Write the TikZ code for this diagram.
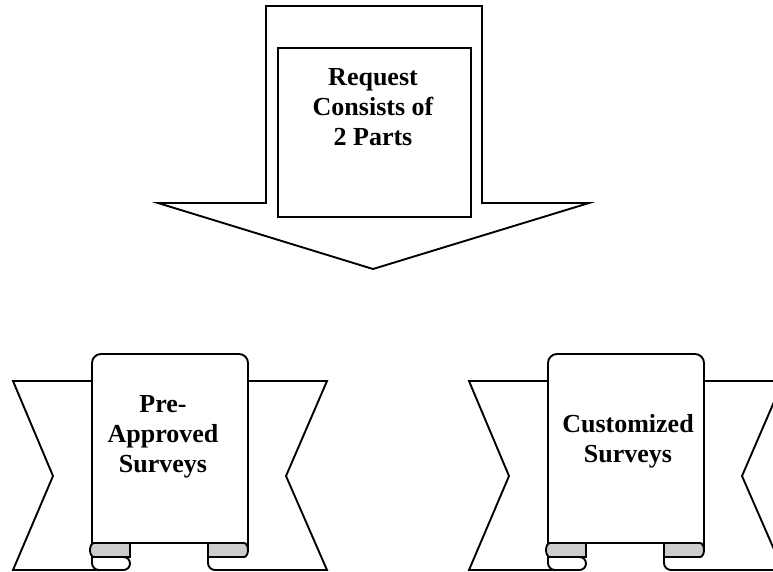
\documentclass[tikz,border=0pt]{standalone}
\usepackage{fontspec}
\setmainfont{Liberation Serif}
\newcommand\ribbonshape[1]{%
  \begin{scope}[shift={(#1,0)}]
    % side bands
    \draw (-78,381) -- (-157,381) -- (-117,476) -- (-157,570) -- (-46.5,570);
    \draw (78,381) -- (157,381) -- (116,476) -- (157,570) -- (45,570);
    % panel
    \draw[rounded corners=9] (-78,563) -- (-78,354) -- (78,354) -- (78,549);
    \draw (-40,543) -- (38,543);
    % grey folds
    \draw[fold] (-40,543) -- (-76,543) arc[start angle=270,end angle=90,x radius=4,y radius=7] -- (-40,557) -- cycle;
    \draw[fold] (38,543) -- (74,543) arc[start angle=-90,end angle=90,x radius=4,y radius=7] -- (38,557) -- cycle;
    % lower lobes
    \draw (-78,557) -- (-78,563) arc[start angle=180,end angle=90,radius=7] -- (-46.5,570) arc[start angle=90,end angle=-90,radius=6.5];
    \draw (38,557) -- (38,563) arc[start angle=180,end angle=90,radius=7];
  \end{scope}}
\begin{document}
\begin{tikzpicture}[x=1pt,y=-1pt, line width=1.9pt, line join=miter,
  shapeline/.style={draw=black, fill=white},
  fold/.style={draw=black, fill=gray!40},
  lbl/.style={font=\fontsize{26}{30}\selectfont\bfseries, align=center, anchor=north, inner sep=0pt}]
\useasboundingbox (0,0) rectangle (773,571);
\clip (0,0) rectangle (773,571);
% big down arrow
\draw[shapeline] (266,6) -- (482,6) -- (482,203) -- (589,203) -- (373,269) -- (158,203) -- (266,203) -- cycle;
\node[shapeline, minimum width=193pt, minimum height=169pt, inner sep=0pt] (box) at (374.5,132.5) {};
\node[lbl] (req) at (373,68) {Request\\Consists of\\2 Parts};
% ribbons
\ribbonshape{170}
\ribbonshape{626}
\node[lbl] (pre) at (163,395) {Pre-\\Approved\\Surveys};
\node[lbl] (cust) at (628,413.5) {Customized\\Surveys};
\end{tikzpicture}
\end{document}
